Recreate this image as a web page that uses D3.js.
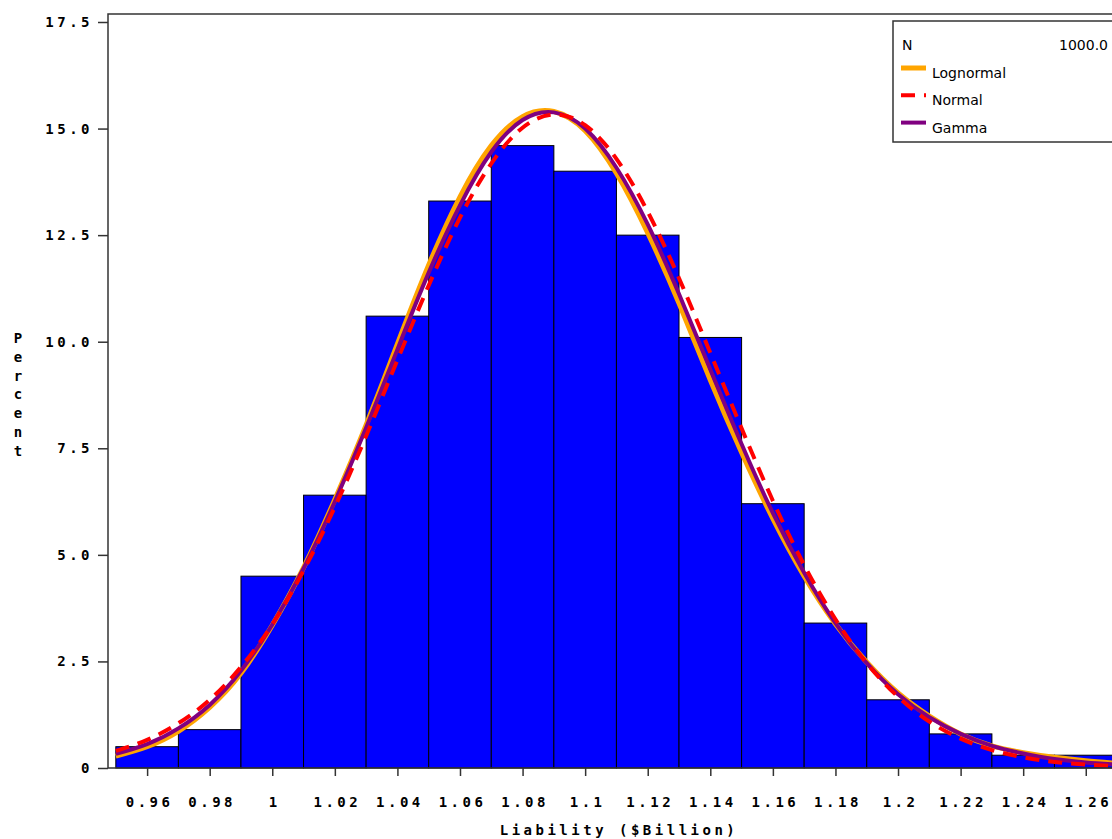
<!DOCTYPE html>
<html>
<head>
<meta charset="utf-8">
<script src="https://cdn.jsdelivr.net/npm/d3@7"></script>
<style>
  body { margin: 0; background: #fff; }
  .lbl { font-family: "DejaVu Sans Mono", monospace; font-weight: bold; font-size: 14px; letter-spacing: 3.5px; fill: #000; }
  .leg { font-family: "DejaVu Sans", sans-serif; font-size: 14px; fill: #000; }
</style>
</head>
<body>
<div id="content"></div>
<script>
// Histogram: bin centres (width 0.02) and percent of observations.
var binCenters = [0.96, 0.98, 1.00, 1.02, 1.04, 1.06, 1.08, 1.10, 1.12, 1.14, 1.16, 1.18, 1.20, 1.22, 1.24, 1.26];
var binPercent = [0.5, 0.9, 4.5, 6.4, 10.6, 13.3, 14.6, 14.0, 12.5, 10.1, 6.2, 3.4, 1.6, 0.8, 0.3, 0.3];
var binWidth = 0.02;

// Fitted curves at 0.01 steps.
var curveX = [0.95, 0.96, 0.97, 0.98, 0.99, 1.00, 1.01, 1.02, 1.03, 1.04, 1.05, 1.06, 1.07, 1.08, 1.09, 1.10, 1.11,
              1.12, 1.13, 1.14, 1.15, 1.16, 1.17, 1.18, 1.19, 1.20, 1.21, 1.22, 1.23, 1.24, 1.25, 1.26, 1.27];
var lognormalY = [0.28, 0.50, 0.86, 1.42, 2.22, 3.35, 4.70, 6.30, 8.05, 9.95, 11.80, 13.40, 14.60, 15.28, 15.40, 14.95, 13.95,
                  12.55, 10.90, 9.10, 7.40, 5.85, 4.50, 3.38, 2.48, 1.76, 1.22, 0.80, 0.52, 0.36, 0.25, 0.17, 0.11];
var normalY = [0.40, 0.66, 1.05, 1.60, 2.37, 3.37, 4.63, 6.12, 7.79, 9.57, 11.32, 12.91, 14.18, 15.02, 15.33, 15.08, 14.29,
               13.05, 11.49, 9.74, 7.97, 6.27, 4.76, 3.49, 2.46, 1.67, 1.09, 0.69, 0.42, 0.25, 0.14, 0.08, 0.04];
var gammaY = [0.33, 0.56, 0.93, 1.48, 2.28, 3.36, 4.68, 6.25, 7.98, 9.82, 11.62, 13.20, 14.45, 15.20, 15.38, 15.00, 14.08,
              12.75, 11.12, 9.35, 7.60, 5.98, 4.58, 3.40, 2.46, 1.73, 1.19, 0.80, 0.52, 0.34, 0.21, 0.13, 0.08];

var xTickValues = [0.96, 0.98, 1.00, 1.02, 1.04, 1.06, 1.08, 1.10, 1.12, 1.14, 1.16, 1.18, 1.20, 1.22, 1.24, 1.26];
var xTickLabels = ["0.96", "0.98", "1", "1.02", "1.04", "1.06", "1.08", "1.1", "1.12", "1.14", "1.16", "1.18", "1.2", "1.22", "1.24", "1.26"];
var yTickValues = [0, 2.5, 5, 7.5, 10, 12.5, 15, 17.5];
var yTickLabels = ["0", "2.5", "5.0", "7.5", "10.0", "12.5", "15.0", "17.5"];

var legendItems = [
  {name: "Lognormal", color: "#FFA500", width: 5, dash: null},
  {name: "Normal", color: "#FF0000", width: 4, dash: "14,9"},
  {name: "Gamma", color: "#800080", width: 4, dash: null}
];

var svg = d3.select('#content').append('svg').attr('width', 1112).attr('height', 839);

var x = d3.scaleLinear().domain([0.9475, 1.2735]).range([108, 1128]);
var y = d3.scaleLinear().domain([0, 17.5]).range([768, 22]);

// Bars.
svg.append('g').selectAll('rect')
    .data(binCenters)
    .enter()
    .append('rect')
    .attr('x', function(d) { return x(d - binWidth / 2); })
    .attr('y', function(d, i) { return y(binPercent[i]); })
    .attr('width', function(d) { return x(d + binWidth / 2) - x(d - binWidth / 2); })
    .attr('height', function(d, i) { return y(0) - y(binPercent[i]); })
    .style('fill', '#0000FF')
    .style('stroke', '#000')
    .style('stroke-width', 1);

// Curves.
var line = d3.line()
    .x(function(d) { return x(d[0]); })
    .y(function(d) { return y(d[1]); })
    .curve(d3.curveNatural);

[lognormalY, gammaY, normalY].forEach(function(series, k) {
  var item = legendItems[[0, 2, 1][k]];
  svg.append('path')
      .datum(curveX.map(function(v, i) { return [v, series[i]]; }))
      .attr('d', line)
      .style('fill', 'none')
      .style('stroke', item.color)
      .style('stroke-width', item.width)
      .style('stroke-dasharray', item.dash);
});

// Frame.
svg.append('path')
    .attr('d', 'M' + x.range()[1] + ',14H108V768H' + x.range()[1])
    .style('fill', 'none').style('stroke', '#333').style('stroke-width', 1.5);

// Axes.
var yAxis = svg.append('g')
    .attr('transform', 'translate(108,0)')
    .call(d3.axisLeft(y).tickValues(yTickValues).tickSize(10).tickPadding(5)
          .tickFormat(function(d, i) { return yTickLabels[i]; }));
yAxis.select('.domain').remove();
yAxis.selectAll('.tick line').style('stroke', '#333').style('stroke-width', 1.5);

var xAxis = svg.append('g')
    .attr('transform', 'translate(0,768)')
    .call(d3.axisBottom(x).tickValues(xTickValues).tickSize(8).tickPadding(21)
          .tickFormat(function(d, i) { return xTickLabels[i]; }));
xAxis.select('.domain').remove();
xAxis.selectAll('.tick line').style('stroke', '#333').style('stroke-width', 1.5);
xAxis.selectAll('.tick text').attr('dx', '2px');

svg.selectAll('.tick text')
    .style('font-family', '"DejaVu Sans Mono", monospace')
    .style('font-weight', 'bold').style('font-size', '14px')
    .style('letter-spacing', '3.5px').style('fill', '#000');

// Axis titles.
svg.append('text').attr('class', 'lbl')
    .attr('x', 619).attr('y', 835).attr('text-anchor', 'middle')
    .text('Liability ($Billion)');

svg.append('g').selectAll('text')
    .data('Percent'.split(''))
    .enter()
    .append('text')
    .attr('class', 'lbl')
    .style('letter-spacing', '0px')
    .attr('x', 18).attr('text-anchor', 'middle')
    .attr('y', function(d, i) { return 343 + i * 18.8; })
    .text(function(d) { return d; });

// Legend.
var leg = svg.append('g');
leg.append('rect').attr('x', 893).attr('y', 21).attr('width', 240).attr('height', 121)
    .style('fill', '#fff').style('stroke', '#333').style('stroke-width', 1.5);
leg.append('text').attr('class', 'leg').attr('x', 902).attr('y', 50).text('N');
leg.append('text').attr('class', 'leg').attr('x', 1108).attr('y', 50).attr('text-anchor', 'end').text('1000.0');
legendItems.forEach(function(item, i) {
  var ly = 68 + i * 27.3;
  leg.append('line').attr('x1', 901).attr('x2', 926).attr('y1', ly).attr('y2', ly)
      .style('stroke', item.color).style('stroke-width', item.width)
      .style('stroke-dasharray', item.dash ? '14,9' : null);
  leg.append('text').attr('class', 'leg').attr('x', 932).attr('y', ly + 10).text(item.name);
});
</script>
</body>
</html>
